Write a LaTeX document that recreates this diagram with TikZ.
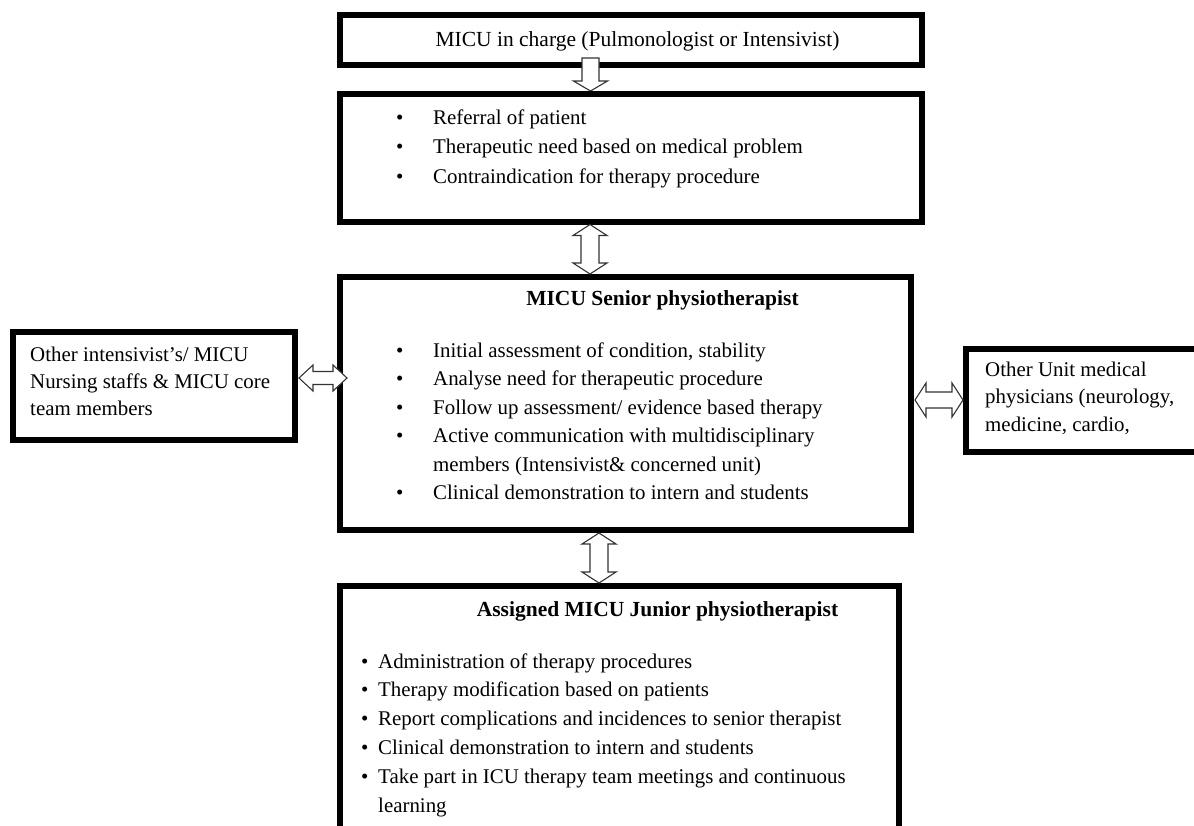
\documentclass[tikz,border=0pt]{standalone}
\usepackage{fontspec}
\setmainfont{Liberation Serif}
\usetikzlibrary{calc}

\tikzset{
  box/.style={draw, line width=6pt, rectangle, inner sep=0},
  blockarrow/.style={draw=black!80, line width=1.1pt, fill=white, line join=miter},
  txt/.style={font=\fontsize{20.9pt}{29pt}\selectfont, inner sep=0, anchor=base west},
  ttl/.style={txt, font=\fontsize{21.5pt}{29pt}\selectfont\bfseries, anchor=base}
}
\newcommand{\bul}[1]{\makebox[#1][l]{\textbullet}}

\begin{document}
\begin{tikzpicture}[x=1pt, y=-1pt]
\clip (0,0) rectangle (1194,825);
\fill[white] (0,0) rectangle (1194,825);

% boxes
\node[box, minimum width=582pt, minimum height=50pt] (incharge) at (631,40){};
\node[box, minimum width=582pt, minimum height=127.5pt] (referral) at (631,157.75){};
\node[box, minimum width=571pt, minimum height=253pt] (senior) at (625.5,403.5){};
\node[box, minimum width=282pt, minimum height=108pt] (others) at (154,386){};
\node[box, minimum width=244pt, minimum height=103pt] (physicians) at (1088,400.5){};
\node[box, minimum width=559pt, minimum height=254pt] (junior) at (619.5,713){};

% texts
\node[txt, font=\fontsize{21.5pt}{29pt}\selectfont, anchor=base] (t0) at (637.5,46){MICU in charge (Pulmonologist or Intensivist)};
\foreach \txt [count=\i] in {Referral of patient, Therapeutic need based on medical problem, Contraindication for therapy procedure}
  \node[txt] (r\i) at (396,{124+29.5*(\i-1)}){\bul{37pt}\txt};

\node[ttl] (st) at (662.5,305){MICU Senior physiotherapist};
\node[txt] (s1) at (396,357){\bul{37pt}Initial assessment of condition, stability};
\node[txt] (s2) at (396,385.5){\bul{37pt}Analyse need for therapeutic procedure};
\node[txt] (s3) at (396,414){\bul{37pt}Follow up assessment/ evidence based therapy};
\node[txt] (s4) at (396,442.5){\bul{37pt}Active communication with multidisciplinary};
\node[txt] (s4b) at (433,471){members (Intensivist\& concerned unit)};
\node[txt] (s5) at (396,499.5){\bul{37pt}Clinical demonstration to intern and students};

\foreach \txt [count=\i] in {Other intensivist’s/ MICU, Nursing staffs \& MICU core, team members}
  \node[txt] (o\i) at (30,{361+27*(\i-1)}){\txt};
\foreach \txt [count=\i] in {Other Unit medical, {physicians (neurology,}, {medicine, cardio,}}
  \node[txt] (p\i) at (985,{376+27.5*(\i-1)}){\txt};

\node[ttl] (jt) at (657.5,616){Assigned MICU Junior physiotherapist};
\foreach \txt [count=\i] in {Administration of therapy procedures, Therapy modification based on patients, Report complications and incidences to senior therapist, Clinical demonstration to intern and students, Take part in ICU therapy team meetings and continuous}
  \node[txt] (j\i) at (361,{668+28.8*(\i-1)}){\bul{17pt}\txt};
\node[txt] (j5b) at (378,812){learning};

% arrows
\draw[blockarrow] let \p1=(incharge.south), \p2=(referral.north) in
  (582pt,\y1+10pt) -- (599pt,\y1+10pt) -- (599pt,\y2+10pt) -- (607.5pt,\y2+10pt) -- (590.5pt,\y2)
  -- (573.5pt,\y2+10pt) -- (582pt,\y2+10pt) -- cycle;
\draw[blockarrow] let \p1=(referral.south), \p2=(senior.north) in
  (590pt,\y1) -- (607pt,\y1-11pt) -- (599pt,\y1-11pt) -- (599pt,\y2+11pt) -- (607pt,\y2+11pt) -- (590pt,\y2)
  -- (573pt,\y2+11pt) -- (581pt,\y2+11pt) -- (581pt,\y1-11pt) -- (573pt,\y1-11pt) -- cycle;
\draw[blockarrow] let \p1=(senior.south), \p2=(junior.north) in
  (599pt,\y1) -- (616pt,\y1-11pt) -- (608pt,\y1-11pt) -- (608pt,\y2+11pt) -- (616pt,\y2+11pt) -- (599pt,\y2)
  -- (582pt,\y2+11pt) -- (590pt,\y2+11pt) -- (590pt,\y1-11pt) -- (582pt,\y1-11pt) -- cycle;
\draw[blockarrow] let \p1=(others.east), \p2=(senior.west) in
  (\x1+1pt,-378pt) -- (\x1+15pt,-365pt) -- (\x1+15pt,-371.5pt) -- (\x2-4pt,-371.5pt) -- (\x2-4pt,-365pt) -- (\x2+10pt,-378pt)
  -- (\x2-4pt,-391pt) -- (\x2-4pt,-384.5pt) -- (\x1+15pt,-384.5pt) -- (\x1+15pt,-391pt) -- cycle;
\draw[blockarrow] let \p1=(senior.east), \p2=(physicians.west) in
  (\x1+1pt,-400pt) -- (\x1+12pt,-383pt) -- (\x1+12pt,-392pt) -- (\x2-11pt,-392pt) -- (\x2-11pt,-383pt) -- (\x2,-400pt)
  -- (\x2-11pt,-417pt) -- (\x2-11pt,-408pt) -- (\x1+12pt,-408pt) -- (\x1+12pt,-417pt) -- cycle;
\end{tikzpicture}
\end{document}
